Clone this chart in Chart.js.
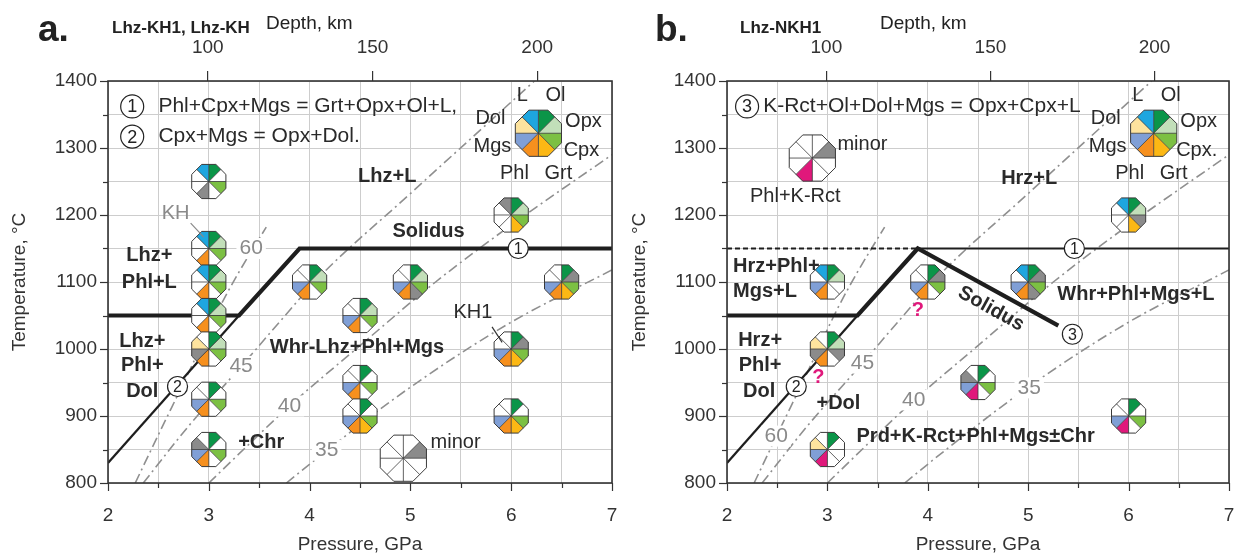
<!DOCTYPE html>
<html><head><meta charset="utf-8">
<script src="https://cdn.jsdelivr.net/npm/chart.js@4.4.0/dist/chart.umd.min.js"></script>
<style>
html,body{margin:0;padding:0;background:#fff;}
#wrap{position:relative;width:1245px;height:557px;overflow:hidden;background:#fff;}
canvas{position:absolute;top:0;}
</style></head><body>
<div id="wrap"><canvas id="ca" width="620" height="557" style="left:0"></canvas><canvas id="cb" width="625" height="557" style="left:620px"></canvas></div>
<script>
// ---------------- DATA ----------------
const P_RANGE = [2, 7];
const T_RANGE = [800, 1400];
const DEPTH_TICKS = [100, 150, 200];
const PHASES = ['Ol','Opx','Cpx','Grt','Phl','Mgs','Dol','L'];   // clockwise from 12 o'clock

// solidus & reaction lines
const solidusA_P = [2, 3.3, 3.9, 7];
const solidusA_T = [1050, 1050, 1150, 1150];
const solidusB_P = [2, 3.3, 3.9, 5.3];
const solidusB_T = [1050, 1050, 1150, 1035];
const reaction1B_P = [3.9, 7];
const reaction1B_T = [1150, 1150];
const dashedB_P = [2, 3.9];
const dashedB_T = [1150, 1150];
const reaction2_P = [2, 3.3];
const reaction2_T = [830, 1050];

// geotherms (mW/m2)
const geo60_P = [2.27, 2.5, 2.8, 3.1, 3.3, 3.57];
const geo60_T = [800, 872, 965, 1060, 1115, 1182];
const geo45_P = [2.35, 2.8, 3.35, 3.7, 4.1, 5.0, 6.23];
const geo45_T = [800, 885, 979, 1040, 1108, 1232, 1400];
const geo40_P = [3.0, 3.4, 3.8, 4.5, 5.25, 6.0, 7.0];
const geo40_T = [800, 858, 915, 1005, 1100, 1185, 1290];
const geo35_P = [3.77, 4.2, 5.0, 6.0, 7.0];
const geo35_T = [800, 852, 943, 1040, 1118];

// experiments, panel a (slots Ol,Opx,Cpx,Grt,Phl,Mgs,Dol,L: x=present, g=minor, k=K-Rct, .=absent)
const expA_P = [3, 3, 3, 3, 3, 3, 3, 4, 4.5, 4.5, 4.5, 5, 6, 6, 6, 6.5];
const expA_T = [1250, 1150, 1100, 1050, 1000, 925, 850, 1100, 1050, 950, 900, 1100, 1200, 1000, 900, 1100];
const expA_phases = ['x.x.g..x','xxx.x..x','xxx.x..x','xxx.x..x','xxx.xgx.','x.x.xx..','x.x.xxg.',
  'xxx.xx..','xxx.xx..','x.x.xx..','x.xxxx..','xxxgxx..','xxxx...g','xgxxxx..','x.xxxx..','xgxxxx..'];
// experiments, panel b
const expB_P = [3, 3, 3, 4, 5, 4.5, 6, 6];
const expB_T = [1100, 1000, 850, 1100, 1100, 950, 1200, 900];
const expB_phases = ['xx..xx.x','xxg.xgx.','x...kxx.','xgx.xx..','xgxgxx.x','x.x.kxg.','xxgx...x','x.x.kx..'];

// key glyphs
const keyA_P = [6.27, 4.93];
const keyA_T = [1322, 837];
const keyA_phases = ['xxxxxxxx', '.g......'];
const keyB_P = [6.25, 2.85];
const keyB_T = [1322, 1285];
const keyB_phases = ['xxxxxxxx', '.g..k...'];

// ---------------- STYLE ----------------
const FONT = '"Liberation Sans", Arial, Helvetica, sans-serif';
const PHASE_COLORS = {Ol:'#0b9548', Opx:'#c2dfb9', Cpx:'#7cc043', Grt:'#fcb814', Phl:'#f6901e', Mgs:'#809fd6', Dol:'#fde39e', L:'#1ea6df'};
const MINOR = '#8b8b8b', KRCT = '#e0187b';
const GEO_STYLE = {borderColor:'#8f8f8f', borderWidth:1.6, borderDash:[10,4,2,4]};
const depthAt = P => 100 + (P - 2.99) * 30.6;
const pts = (xs, ys) => xs.map((x, i) => ({x, y: ys[i]}));

function lineDS(xs, ys, style, order) {
  return Object.assign({data: pts(xs, ys), showLine: true, pointRadius: 0, fill: false, tension: 0, order}, style);
}
function geoDS(xs, ys) { return lineDS(xs, ys, Object.assign({cubicInterpolationMode:'monotone', tension:0.4}, GEO_STYLE), 5); }
function glyphDS(xs, ys, phases, r) {
  return {data: pts(xs, ys), showLine: false, pointRadius: 0, glyph: true, phases, glyphR: r, order: 1};
}

// ---------------- PLUGINS ----------------
function octVertex(cx, cy, r, deg) { const a = deg * Math.PI / 180; return [cx + r * Math.sin(a), cy - r * Math.cos(a)]; }
function drawGlyph(ctx, cx, cy, R, code) {
  const ap = R * Math.cos(Math.PI / 8);
  for (let k = 0; k < 8; k++) {
    const c = code[k];
    const p1 = octVertex(cx, cy, ap, 45 * k), pv = octVertex(cx, cy, R, 45 * k + 22.5), p2 = octVertex(cx, cy, ap, 45 * k + 45);
    ctx.beginPath(); ctx.moveTo(cx, cy); ctx.lineTo(p1[0], p1[1]); ctx.lineTo(pv[0], pv[1]); ctx.lineTo(p2[0], p2[1]); ctx.closePath();
    ctx.fillStyle = c === 'x' ? PHASE_COLORS[PHASES[k]] : c === 'g' ? MINOR : c === 'k' ? KRCT : '#ffffff';
    ctx.fill();
  }
  ctx.strokeStyle = '#3a3a3a'; ctx.lineWidth = 0.8;
  for (let k = 0; k < 8; k++) { const p = octVertex(cx, cy, ap, 45 * k); ctx.beginPath(); ctx.moveTo(cx, cy); ctx.lineTo(p[0], p[1]); ctx.stroke(); }
  ctx.beginPath();
  for (let k = 0; k < 8; k++) { const p = octVertex(cx, cy, R, 45 * k + 22.5); k ? ctx.lineTo(p[0], p[1]) : ctx.moveTo(p[0], p[1]); }
  ctx.closePath(); ctx.lineWidth = 1; ctx.stroke();
}

const panelPlugin = {
  id: 'panel',
  afterDatasetsDraw(chart, args, opts) {
    const ctx = chart.ctx, xs = chart.scales.x, ys = chart.scales.y;
    const X = v => xs.getPixelForValue(v), Y = v => ys.getPixelForValue(v);
    ctx.save();
    chart.data.datasets.forEach((ds, i) => {
      if (!ds.glyph) return;
      chart.getDatasetMeta(i).data.forEach((el, j) => drawGlyph(ctx, el.x, el.y, Array.isArray(ds.glyphR) ? ds.glyphR[j] : ds.glyphR, ds.phases[j]));
    });
    (opts.leaders || []).forEach(l => {
      ctx.strokeStyle = l.color; ctx.lineWidth = 1.2; ctx.beginPath();
      ctx.moveTo(X(l.p[0]), Y(l.p[1])); ctx.lineTo(X(l.p[2]), Y(l.p[3])); ctx.stroke();
    });
    (opts.circles || []).forEach(c => {
      const cx = X(c.p), cy = Y(c.t);
      ctx.beginPath(); ctx.arc(cx, cy, c.r || 10, 0, Math.PI * 2); ctx.fillStyle = '#fff'; ctx.fill();
      ctx.strokeStyle = '#222'; ctx.lineWidth = 1.2; ctx.stroke();
      ctx.fillStyle = '#222'; ctx.font = (c.fs || 16) + 'px ' + FONT; ctx.textAlign = 'center'; ctx.textBaseline = 'middle';
      ctx.fillText(c.n, cx, cy + 1);
    });
    (opts.notes || []).forEach(n => {
      let x = X(n.p), y = Y(n.t);
      if (n.key !== undefined) { const el = chart.getDatasetMeta(n.key).data[0]; x = el.x + n.dx; y = el.y + n.dy; }
      ctx.save(); ctx.translate(x, y); if (n.rot) ctx.rotate(n.rot * Math.PI / 180);
      ctx.font = (n.w || '') + ' ' + n.fs + 'px ' + FONT; ctx.textAlign = n.align || 'center'; ctx.textBaseline = 'middle';
      if (n.bg) {
        const w = ctx.measureText(n.s).width, x0 = n.align === 'left' ? 0 : -w / 2;
        ctx.fillStyle = '#fff'; ctx.fillRect(x0 - 3, -n.fs * 0.5, w + 6, n.fs);
      }
      ctx.fillStyle = n.c || '#222'; ctx.fillText(n.s, 0, 0); ctx.restore();
    });
    ctx.restore();
  },
  afterDraw(chart, args, opts) {
    const ctx = chart.ctx, a = chart.chartArea, xs = chart.scales.x, ys = chart.scales.y;
    ctx.save();
    ctx.strokeStyle = '#333'; ctx.lineWidth = 1.2;
    for (let v = 2; v <= 7.001; v += 0.5) {
      const x = Math.round(xs.getPixelForValue(v)) + 0.5, L = Math.abs(v - Math.round(v)) < 1e-6 ? 8 : 5;
      ctx.beginPath(); ctx.moveTo(x, a.bottom); ctx.lineTo(x, a.bottom + L); ctx.stroke();
    }
    for (let v = 800; v <= 1400; v += 50) {
      const y = Math.round(ys.getPixelForValue(v)) + 0.5, L = v % 100 === 0 ? 8 : 5;
      ctx.beginPath(); ctx.moveTo(a.left, y); ctx.lineTo(a.left - L, y); ctx.stroke();
    }
    ctx.strokeStyle = '#333'; ctx.lineWidth = 1.6;
    ctx.strokeRect(a.left, a.top, a.right - a.left, a.bottom - a.top);
    (opts.header || []).forEach(h => {
      ctx.font = (h.w || '') + ' ' + h.fs + 'px ' + FONT; ctx.fillStyle = '#222'; ctx.textAlign = 'left'; ctx.textBaseline = 'alphabetic';
      ctx.fillText(h.s, h.x, h.y);
    });
    ctx.restore();
  }
};

const noPad = s => { s.paddingLeft = 0; s.paddingRight = 0; s.paddingTop = 0; s.paddingBottom = 0; };

// ---------------- CHART BUILDER ----------------
function makeChart(id, left, right, datasets, panelOpts) {
  const tickFont = {family: FONT, size: 19};
  return new Chart(document.getElementById(id), {
    type: 'scatter',
    data: {datasets},
    options: {
      responsive: false, animation: false, devicePixelRatio: 1,
      layout: {padding: {left: 0, right: right, top: 0, bottom: 0}, autoPadding: false},
      plugins: {legend: {display: false}, tooltip: {enabled: false}, panel: panelOpts},
      scales: {
        x: {type: 'linear', position: 'bottom', min: P_RANGE[0], max: P_RANGE[1],
          ticks: {stepSize: 0.5, autoSkip: false, maxRotation: 0, padding: 13, color: '#333', font: tickFont,
            callback: v => Math.abs(v - Math.round(v)) < 1e-6 ? String(Math.round(v)) : ''},
          grid: {color: '#cdcdcd', lineWidth: 1, drawTicks: true, tickLength: 8, tickColor: 'rgba(0,0,0,0)'},
          border: {display: false},
          title: {display: true, text: 'Pressure, GPa', color: '#333', font: {family: FONT, size: 19}, padding: {top: 0, bottom: 1}},
          afterFit: s => { s.height = 74; noPad(s); }},
        y: {type: 'linear', position: 'left', min: T_RANGE[0], max: T_RANGE[1],
          ticks: {stepSize: 50, autoSkip: false, padding: 3, color: '#333', font: tickFont,
            callback: v => v % 100 === 0 ? String(v) : ''},
          grid: {color: '#cdcdcd', lineWidth: 1, drawTicks: true, tickLength: 8, tickColor: 'rgba(0,0,0,0)'},
          border: {display: false},
          title: {display: true, text: 'Temperature, °C', color: '#333', font: {family: FONT, size: 19}, padding: {top: 8, bottom: 0}},
          afterFit: s => { s.width = left; noPad(s); }},
        depth: {type: 'linear', position: 'top', min: depthAt(P_RANGE[0]), max: depthAt(P_RANGE[1]),
          afterBuildTicks: s => { s.ticks = DEPTH_TICKS.map(v => ({value: v})); },
          ticks: {autoSkip: false, maxRotation: 0, padding: 12, color: '#333', font: tickFont},
          grid: {drawOnChartArea: false, drawTicks: true, tickLength: 10, tickColor: '#333', lineWidth: 1.2},
          border: {display: false},
          afterFit: s => { s.height = 81; noPad(s); }}
      }
    },
    plugins: [panelPlugin]
  });
}

const GRAY = '#8a8a8a';
const numNote = (s, p, t) => ({s, p, t, fs: 21, c: GRAY, bg: true});
const bold = (s, p, t, align) => ({s, p, t, fs: 20, w: 'bold', c: '#2a2a2a', align});
const keyLabels = (ki, cpx) => [
  ['L', -16, -38], ['Ol', 17, -38], ['Dol', -48, -15], ['Opx', 45, -12],
  ['Mgs', -46, 13], [cpx, 43, 17], ['Phl', -24, 40], ['Grt', 20, 40]
].map(([s, dx, dy]) => ({s, key: ki, dx, dy, fs: 20, c: '#2a2a2a'}));

// ----- panel a -----
const dsA = [
  lineDS(solidusA_P, solidusA_T, {borderColor: '#1e1e1e', borderWidth: 4.2}, 0),
  lineDS(reaction2_P, reaction2_T, {borderColor: '#1e1e1e', borderWidth: 2.2}, 0),
  geoDS(geo60_P, geo60_T), geoDS(geo45_P, geo45_T), geoDS(geo40_P, geo40_T), geoDS(geo35_P, geo35_T),
  glyphDS(expA_P, expA_T, expA_phases, 18.5),
  glyphDS(keyA_P, keyA_T, keyA_phases, [25, 25])
];
makeChart('ca', 108, 8, dsA, {
  header: [{s: 'a.', x: 38, y: 41, fs: 37, w: 'bold'}, {s: 'Lhz-KH1, Lhz-KH', x: 112, y: 33, fs: 17, w: 'bold'},
           {s: 'Depth, km', x: 266, y: 29, fs: 19}],
  circles: [{n: '1', p: 6.07, t: 1150}, {n: '2', p: 2.69, t: 944},
            {n: '1', p: 2.24, t: 1362, r: 11.5, fs: 18}, {n: '2', p: 2.24, t: 1317, r: 11.5, fs: 18}],
  leaders: [{p: [2.82, 1188, 2.95, 1167], color: '#888'}, {p: [5.81, 1033, 5.91, 1010], color: '#333'}],
  notes: [
    {s: 'Phl+Cpx+Mgs = Grt+Opx+Ol+L,', p: 2.5, t: 1362, fs: 21, align: 'left', c: '#2a2a2a'},
    {s: 'Cpx+Mgs = Opx+Dol.', p: 2.5, t: 1317, fs: 21, align: 'left', c: '#2a2a2a'},
    bold('Lhz+L', 4.77, 1257), bold('Solidus', 5.18, 1175),
    bold('Lhz+', 2.41, 1140), bold('Phl+L', 2.41, 1100),
    bold('Lhz+', 2.34, 1011), bold('Phl+', 2.34, 976), bold('Dol', 2.34, 936),
    bold('+Chr', 3.52, 860), bold('Whr-Lhz+Phl+Mgs', 4.47, 1003),
    {s: 'KH', p: 2.67, t: 1203, fs: 20, c: GRAY}, {s: 'KH1', p: 5.62, t: 1054, fs: 20, c: '#2a2a2a'},
    {s: 'minor', p: 5.2, t: 860, fs: 20, align: 'left', c: '#2a2a2a'},
    numNote('60', 3.42, 1150), numNote('45', 3.32, 974), numNote('40', 3.8, 915), numNote('35', 4.17, 849),
    ...keyLabels(7, 'Cpx')
  ]
});

// ----- panel b -----
const dsB = [
  lineDS(solidusB_P, solidusB_T, {borderColor: '#1e1e1e', borderWidth: 4.2}, 0),
  lineDS(reaction1B_P, reaction1B_T, {borderColor: '#1e1e1e', borderWidth: 2.2}, 0),
  lineDS(dashedB_P, dashedB_T, {borderColor: '#1e1e1e', borderWidth: 2, borderDash: [5, 3]}, 0),
  lineDS(reaction2_P, reaction2_T, {borderColor: '#1e1e1e', borderWidth: 2.2}, 0),
  geoDS(geo60_P, geo60_T), geoDS(geo45_P, geo45_T), geoDS(geo40_P, geo40_T), geoDS(geo35_P, geo35_T),
  glyphDS(expB_P, expB_T, expB_phases, 18.5),
  glyphDS(keyB_P, keyB_T, keyB_phases, [25, 25])
];
makeChart('cb', 107, 16, dsB, {
  header: [{s: 'b.', x: 35, y: 41, fs: 37, w: 'bold'}, {s: 'Lhz-NKH1', x: 120, y: 33, fs: 17, w: 'bold'},
           {s: 'Depth, km', x: 260, y: 29, fs: 19}],
  circles: [{n: '1', p: 5.46, t: 1150}, {n: '2', p: 2.69, t: 944}, {n: '3', p: 5.44, t: 1022},
            {n: '3', p: 2.2, t: 1362, r: 11.5, fs: 18}],
  notes: [
    {s: 'K-Rct+Ol+Dol+Mgs = Opx+Cpx+L', p: 2.36, t: 1362, fs: 21, align: 'left', c: '#2a2a2a'},
    {s: 'minor', p: 3.1, t: 1305, fs: 20, align: 'left', c: '#2a2a2a'},
    {s: 'Phl+K-Rct', p: 2.68, t: 1228, fs: 20, c: '#2a2a2a'},
    bold('Hrz+L', 5.01, 1255),
    bold('Hrz+Phl+', 2.06, 1123, 'left'), bold('Mgs+L', 2.06, 1086, 'left'),
    bold('Hrz+', 2.33, 1013), bold('Phl+', 2.33, 976), bold('Dol', 2.32, 936),
    bold('+Dol', 3.11, 919),
    {s: '?', p: 2.91, t: 957, fs: 20, w: 'bold', c: KRCT}, {s: '?', p: 3.9, t: 1058, fs: 20, w: 'bold', c: KRCT},
    Object.assign(bold('Solidus', 4.63, 1060), {rot: 29}),
    bold('Whr+Phl+Mgs+L', 5.29, 1082, 'left'),
    bold('Prd+K-Rct+Phl+Mgs±Chr', 3.29, 869, 'left'),
    numNote('60', 2.49, 870), numNote('45', 3.35, 979), numNote('40', 3.86, 924), numNote('35', 5.01, 942),
    ...keyLabels(9, 'Cpx.')
  ]
});
</script>
</body></html>
